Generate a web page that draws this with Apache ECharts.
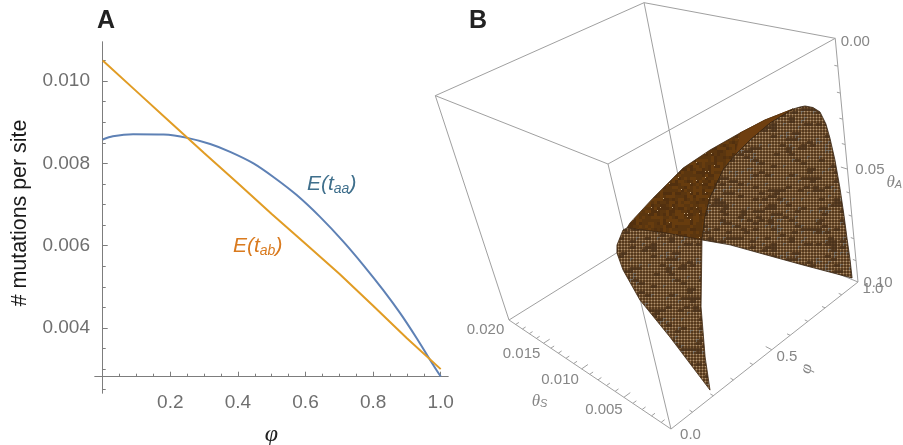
<!DOCTYPE html>
<html><head><meta charset="utf-8"><style>html,body{margin:0;background:#fff}#c{width:903px;height:445px}</style>
<script src="https://cdn.jsdelivr.net/npm/echarts@6/dist/echarts.min.js"></script></head>
<body><div id="c"></div>
<script>
// ---- Panel A data ----
var phiValues = [0, 0.03, 0.09, 0.18, 0.25, 0.318, 0.377, 0.446, 0.51, 0.574, 0.643, 0.712, 0.771, 0.83, 0.88, 0.929, 0.978, 1.0];
var tAA = [0.00858, 0.00866, 0.00871, 0.0087, 0.00862, 0.00847, 0.00828, 0.0080, 0.00764, 0.00723, 0.0067, 0.0061, 0.00553, 0.00492, 0.00436, 0.00375, 0.0031, 0.00282];
var phiLinear = [0, 0.1, 0.2, 0.3, 0.4, 0.5, 0.6, 0.7, 0.8, 0.9, 1.0];
var tAB = [0.0105, 0.00975, 0.0090, 0.00825, 0.00752, 0.00677, 0.00605, 0.00532, 0.00454, 0.00375, 0.0030];
var xMajor = [0.2, 0.4, 0.6, 0.8, 1.0];
var xMinor = [0.05, 0.1, 0.15, 0.25, 0.3, 0.35, 0.45, 0.5, 0.55, 0.65, 0.7, 0.75, 0.85, 0.9, 0.95];
var yMajor = [0.004, 0.006, 0.008, 0.010];
var yMinor = [0.0025, 0.003, 0.0035, 0.0045, 0.005, 0.0055, 0.0065, 0.007, 0.0075, 0.0085, 0.009, 0.0095, 0.0105];

// ---- Panel B data: [thetaS, phi, thetaA] ----
var sheetRight = [[.004,.965,.0290],[.0034,.971,.0278],[.003,.977,.0272],[.0024,.985,.0275],[.002,.997,.0293],[.0017,1.005,.0341],[.0014,1.002,.0393],[.0011,1.0,.0478],[.0008,.995,.0589],[.0006,.991,.07],[.0004,.984,.0795],[.0002,.978,.0888],[0,.968,.0962],[.0002,.722,.0763],[.0004,.546,.0619],[.0006,.415,.0512],[.0008,.31,.0438],[.0014,.364,.039],[.002,.423,.0358],[.0028,.534,.0317],[.0034,.624,.0311],[.004,.732,.031],[.0044,.86,.0305]];
var sheetDark = [[.0184,.633,.0845],[.016,.694,.0715],[.013,.764,.0564],[.01,.794,.0457],[.0076,.853,.0381],[.0056,.895,.0322],[.004,.965,.0290],[.0044,.86,.0305],[.004,.732,.031],[.0034,.624,.0311],[.0028,.534,.0317],[.002,.423,.0358],[.0014,.364,.039],[.0008,.31,.0438],[.01,.502,.0677],[.019,.631,.088]];
var sheetCrest = [[.0076,.853,.0381],[.0056,.895,.0322],[.004,.965,.0290],[.0044,.86,.0305],[.004,.732,.031],[.0034,.624,.0311]];
var sheetLeft = [[0,.191,.0968],[.0002,.206,.0838],[.0004,.238,.0653],[.0008,.31,.0438],[.01,.502,.0677],[.019,.631,.088],[.0194,.622,.0892],[.02,.592,.0965],[.02,.582,.1001],[.017,.498,.0984],[.012,.385,.0965],[.006,.282,.0941]];
var boxS = [0, 0.02], boxPhi = [0, 1], boxA = [0, 0.1];
var thetaSTicks = [0.001,0.002,0.003,0.004,0.005,0.006,0.007,0.008,0.009,0.01,0.011,0.012,0.013,0.014,0.015,0.016,0.017,0.018,0.019];
var phiTicks = [0.1,0.2,0.3,0.4,0.5,0.6,0.7,0.8,0.9];
var thetaATicks = [0.01,0.02,0.03,0.04,0.05,0.06,0.07,0.08,0.09];
var bLabels = [
  ['0.020',0.02,0,0.1,-23.5,10],['0.015',0.015,0,0.1,-22,11],['0.010',0.01,0,0.1,-21.6,11],['0.005',0.005,0,0.1,-20,13],['0.0',0,0,0.1,19.5,6],
  ['0.5',0,0.5,0.1,15,7],['1.0',0,1,0.1,15,7],['0.00',0,1,0,20,4],['0.05',0,1,0.05,22.5,1],['0.10',0,1,0.1,20,1]
];

// ---- Projection of the 3D box into the picture plane of panel B ----
var O=[671,429], XS=[509,320], XP=[858,282], XA=[608,164], WS=1.23, WP=1.17, WA=0.84;
function project(t){
  var s=t[0]/0.02, p=t[1], a=1-t[2]/0.1, c=1-s-p-a;
  var w=c+s*WS+p*WP+a*WA;
  return [(c*O[0]+s*WS*XS[0]+p*WP*XP[0]+a*WA*XA[0])/w, (c*O[1]+s*WS*XS[1]+p*WP*XP[1]+a*WA*XA[1])/w];
}

// ---- Surface textures ----
function noise(i,j){var v=Math.sin(i*127.1+j*311.7)*43758.5453;return v-Math.floor(v);}
function meshTile(){
  var n=40,cell=3,cv=document.createElement('canvas');cv.width=cv.height=n*cell;var g=cv.getContext('2d');
  for(var i=0;i<n;i++)for(var j=0;j<n;j++){
    var r=noise(i,j),r2=noise((i+n-1)%n,j),L='#ad9475',M='#7e5c38',D='#54391e';
    if(r<0.1||r2<0.1){L='#66492c';M='#553a20';D='#4a321b';}
    else if(r<0.17){L='#85827c';M='#75695a';}
    g.fillStyle=D;g.fillRect(i*cell,j*cell,cell,cell);
    g.fillStyle=M;g.fillRect(i*cell,j*cell,cell,1);g.fillRect(i*cell,j*cell,1,cell);
    g.fillStyle=L;g.fillRect(i*cell,j*cell,1,1);
  }
  return {image:cv,repeat:'repeat'};
}
function darkTile(){
  var n=40,cell=3,cv=document.createElement('canvas');cv.width=cv.height=n*cell;var g=cv.getContext('2d');
  for(var i=0;i<n;i++)for(var j=0;j<n;j++){
    var r=noise(i+7,j+3);
    g.fillStyle=r<0.35?'#673c0e':(r<0.7?'#5b360f':'#52300f');g.fillRect(i*cell,j*cell,cell,cell);
    if(r>0.95){g.fillStyle='#c9ae85';g.fillRect(i*cell,j*cell,1,1);}
  }
  return {image:cv,repeat:'repeat'};
}

function sheetSeries(points,fill,stroke){
  return {type:'custom',xAxisIndex:2,yAxisIndex:2,coordinateSystem:'cartesian2d',clip:false,silent:true,z:4,
    data:points,
    renderItem:function(params,api){
      if(params.dataIndex!==0) return null;
      return {type:'polygon',shape:{points:points.map(function(t){return api.coord(project(t));})},
        style:{fill:fill,stroke:stroke,lineWidth:0.8}};
    }};
}
// box edges
var boxCorners=[];boxS.forEach(function(s){boxPhi.forEach(function(p){boxA.forEach(function(a){boxCorners.push([s,p,a]);});});});
var boxEdges=[];
boxCorners.forEach(function(u,i){boxCorners.forEach(function(v,j){
  if(j>i){var d=0;for(var k=0;k<3;k++) if(u[k]!==v[k]) d++; if(d===1) boxEdges.push([u,v]);}
});});
var tickSegs=[];
thetaSTicks.forEach(function(s,i){var l=(i%5===4)?0.03:0.016;tickSegs.push([[s,0,0.1],[s,l,0.1]]);});
phiTicks.forEach(function(p,i){var l=(i===4)?0.0006:0.0003;tickSegs.push([[0,p,0.1],[l,p,0.1]]);});
thetaATicks.forEach(function(a,i){var l=(i===4)?0.0006:0.0003;tickSegs.push([[0,1,a],[l,1,a]]);});
function segSeries(segs,color,width){
  return {type:'custom',xAxisIndex:2,yAxisIndex:2,coordinateSystem:'cartesian2d',clip:false,silent:true,z:3,
    data:segs.map(function(_,i){return [i];}),
    renderItem:function(params,api){
      var e=segs[params.dataIndex],a=api.coord(project(e[0])),b=api.coord(project(e[1]));
      return {type:'line',shape:{x1:a[0],y1:a[1],x2:b[0],y2:b[1]},style:{stroke:color,lineWidth:width}};
    }};
}
var greyB='#868686';
var labelSeries={type:'custom',xAxisIndex:2,yAxisIndex:2,coordinateSystem:'cartesian2d',clip:false,silent:true,z:5,
  data:bLabels.map(function(_,i){return [i];}),
  renderItem:function(params,api){
    var l=bLabels[params.dataIndex],c=api.coord(project([l[1],l[2],l[3]]));
    return {type:'text',x:c[0]+l[4],y:c[1]+l[5],style:{text:l[0],fill:greyB,font:'15px "Liberation Sans"',align:'center',verticalAlign:'middle'}};
  }};
var titleSeries={type:'custom',xAxisIndex:2,yAxisIndex:2,coordinateSystem:'cartesian2d',clip:false,silent:true,z:5,
  data:[[0],[1],[2]],
  renderItem:function(params,api){
    var defs=[[[0.01,0,0.1],-50,33,'θ','S',0],[[0,0.5,0.1],35,19,'φ','',1.3],[[0,1,0.05],39,13,'θ','A',0]];
    var d=defs[params.dataIndex],c=api.coord(project(d[0]));
    return {type:'text',x:c[0]+d[1],y:c[1]+d[2],rotation:d[5],
      style:{text:'{m|'+d[3]+'}'+(d[4]?'{s|'+d[4]+'}':''),verticalAlign:'middle',align:d[5]?'center':'left',
        rich:{m:{fontFamily:'Liberation Serif',fontStyle:'italic',fontSize:17,fill:greyB,fontWeight:'normal',color:greyB},
              s:{fontFamily:'Liberation Sans',fontStyle:'italic',fontSize:11,color:greyB,fill:greyB,padding:[5,0,0,0]}}}};
  }};

var axisGrey='#7d7d7d', textGrey='#6f6f6f';
function hAxis(ticks,len,labels){
  return {type:'value',gridIndex:0,position:'bottom',offset:-16.3,min:-0.0228,max:1.0216,splitLine:{show:false},
    axisLine:{onZero:false,lineStyle:{color:axisGrey,width:1}},
    axisTick:{inside:true,length:len,customValues:ticks,lineStyle:{color:axisGrey}},
    axisLabel:labels?{customValues:ticks,margin:17,fontSize:19,color:textGrey,fontFamily:'Liberation Sans',formatter:function(v){return v.toFixed(1);}}:{show:false}};
}
function vAxis(ticks,len,labels){
  return {type:'value',gridIndex:0,position:'left',min:0.00242,max:0.01095,splitLine:{show:false},
    axisLine:{onZero:true,lineStyle:{color:axisGrey,width:1}},
    axisTick:{inside:true,length:len,customValues:ticks,lineStyle:{color:axisGrey}},
    axisLabel:labels?{customValues:ticks,margin:5,fontSize:19,color:textGrey,fontFamily:'Liberation Sans',formatter:function(v){return v.toFixed(3);}}:{show:false}};
}
var xMain=hAxis(xMajor,5,true); xMain.name='φ'; xMain.nameLocation='middle'; xMain.nameGap=46;
xMain.nameTextStyle={fontFamily:'Liberation Serif',fontStyle:'italic',fontSize:24,color:'#222'};
var yMain=vAxis(yMajor,5,true); yMain.name='# mutations per site'; yMain.nameLocation='middle'; yMain.nameGap=64; yMain.nameRotate=90;
yMain.nameTextStyle={fontFamily:'Liberation Sans',fontSize:21.4,color:'#1a1a1a',padding:[0,0,0,9]};

function richLabel(sub,color,left,top){
  return {text:'{i|E(}{i|t}{s|'+sub+'}{i|)}',left:left,top:top,
    textStyle:{rich:{i:{fontFamily:'Liberation Sans',fontStyle:'italic',fontWeight:'normal',fontSize:21,color:color},
                     s:{fontFamily:'Liberation Sans',fontStyle:'italic',fontWeight:'normal',fontSize:14,color:color,padding:[9,0,0,0]}}}};
}
var letterStyle={fontFamily:'Liberation Sans',fontWeight:'bold',fontSize:25,color:'#222'};
var chart=echarts.init(document.getElementById('c'),null,{renderer:'canvas'});
chart.setOption({
  animation:false,backgroundColor:'#fff',
  title:[{text:'A',left:92,top:4,textStyle:letterStyle},{text:'B',left:464,top:4,textStyle:letterStyle},
    richLabel('aa','#3f6f8c',302,168),richLabel('ab','#d97a1e',228,230)],
  grid:[{left:95,right:455,top:42,bottom:52,outerBoundsMode:'none'},{left:0,right:0,top:0,bottom:0,outerBoundsMode:'none'}],
  xAxis:[xMain,hAxis(xMinor,3,false),{type:'value',gridIndex:1,min:0,max:903,show:false}],
  yAxis:[yMain,vAxis(yMinor,3,false),{type:'value',gridIndex:1,min:0,max:445,inverse:true,show:false}],
  series:[
    {name:'E(taa)',type:'line',xAxisIndex:0,yAxisIndex:0,symbol:'none',smooth:0.3,z:5,lineStyle:{color:'#5e81b5',width:2},
      data:phiValues.map(function(p,i){return [p,tAA[i]];})},
    {name:'E(tab)',type:'line',xAxisIndex:0,yAxisIndex:0,symbol:'none',z:6,lineStyle:{color:'#e19c24',width:2},
      data:phiLinear.map(function(p,i){return [p,tAB[i]];})},
    segSeries(boxEdges,'#a0a0a0',1),
    segSeries(tickSegs,'#a0a0a0',1),
    sheetSeries(sheetDark,darkTile(),'#3d260f'),
    sheetSeries(sheetCrest,'#6f3f10','#5f360e'),
    sheetSeries(sheetLeft,meshTile(),'#3d260f'),
    sheetSeries(sheetRight,meshTile(),'#33210f'),
    labelSeries,titleSeries
  ]
});
</script></body></html>
